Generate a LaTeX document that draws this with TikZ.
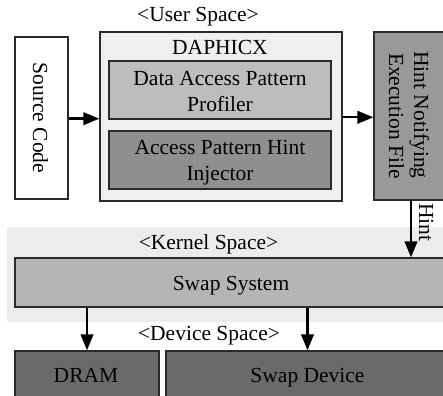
\documentclass[tikz,border=0pt]{standalone}
\usepackage{fontspec}
\setmainfont{Liberation Serif}
\usetikzlibrary{arrows.meta}
\definecolor{cbg}{HTML}{EFEFEF}
\definecolor{cband}{HTML}{ECECEC}
\definecolor{cprof}{HTML}{BDBDBD}
\definecolor{cinj}{HTML}{8F8F8F}
\definecolor{chint}{HTML}{999999}
\definecolor{cswap}{HTML}{B5B5B5}
\definecolor{cdev}{HTML}{6A6A6A}
\definecolor{cline}{HTML}{2A2A2A}
\tikzset{
  box/.style={draw=cline, line width=1.3pt, rectangle, inner sep=0pt},
  txt/.style={inner sep=0pt, font=\fontsize{21.5}{26}\selectfont, text=black},
  arr/.style={line width=2.4pt, -{Triangle[length=16pt,width=12.5pt]}},
}
\begin{document}
\begin{tikzpicture}[x=1pt,y=-1pt]
\useasboundingbox (0,0) rectangle (443,395);
\clip (0,0) rectangle (443,395);
% kernel band
\node[rectangle, fill=cband, inner sep=0pt, minimum width=448pt, minimum height=95pt] (band) at (231,274.5) {};
% boxes
\node[box, fill=white, minimum width=53pt, minimum height=162pt] (src) at (41.5,118) {};
\node[box, fill=cbg, minimum width=242pt, minimum height=169pt] (daph) at (221,116.5) {};
\node[box, fill=cprof, minimum width=222pt, minimum height=58pt] (prof) at (220,90) {};
\node[box, fill=cinj, minimum width=222pt, minimum height=58pt] (inj) at (220,160) {};
\node[box, fill=chint, minimum width=76pt, minimum height=168pt] (hintf) at (412,116) {};
\node[box, fill=cswap, minimum width=432pt, minimum height=49pt] (swap) at (231,282.5) {};
\node[box, fill=cdev, minimum width=144pt, minimum height=49pt] (dram) at (87,375.5) {};
\node[box, fill=cdev, minimum width=283pt, minimum height=49pt] (swapdev) at (307.5,375.5) {};
% texts
\node[txt, anchor=base] (tuser) at (198,22) {<User Space>};
\node[txt, anchor=base] (tdaph) at (220,55) {DAPHICX};
\node[txt, align=center] (tprof) at (220,91.4) {Data Access Pattern\\Profiler};
\node[txt, align=center] (tinj) at (220,163) {Access Pattern Hint\\Injector};
\node[txt, anchor=base, rotate=-90] (tsrc) at (33,118) {Source Code};
\node[txt, anchor=base, rotate=-90] (thint1) at (414,115) {Hint Notifying};
\node[txt, anchor=base, rotate=-90] (thint2) at (389,116) {Execution File};
\node[txt, anchor=base] (tkern) at (208.5,249) {<Kernel Space>};
\node[txt, anchor=base] (tswap) at (231,290) {Swap System};
\node[txt, anchor=base] (tdev) at (209,340) {<Device Space>};
\node[txt, anchor=base] (tdram) at (86,382) {DRAM};
\node[txt, anchor=base] (tswapdev) at (307.5,382) {Swap Device};
% arrows
\draw[arr] ([yshift=-0.7pt]src.east) -- ([yshift=-0.7pt]src.east -| daph.west);
\draw[arr] ([yshift=-0.8pt]daph.east) -- ([yshift=-0.8pt]daph.east -| hintf.west);
\draw[arr] ([xshift=-1pt]hintf.south) -- ([xshift=-1pt]hintf.south |- swap.north)
  node[txt, pos=0.38, anchor=base, rotate=-90, yshift=8pt] (thint) {Hint};
\draw[arr] (dram.north |- swap.south) -- (dram.north);
\draw[arr] (swapdev.north |- swap.south) -- (swapdev.north);
\end{tikzpicture}
\end{document}
